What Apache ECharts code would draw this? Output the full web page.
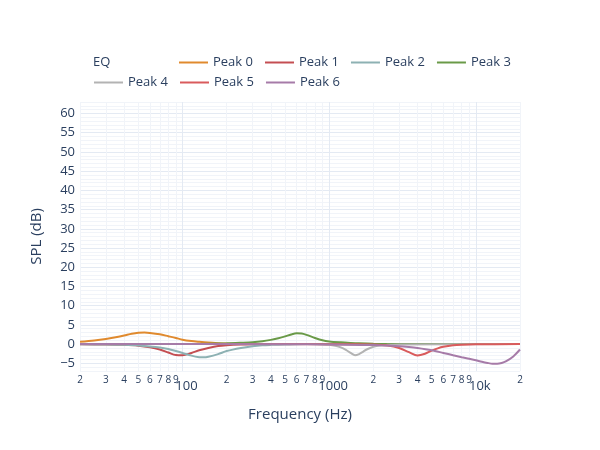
<!DOCTYPE html>
<html><head><meta charset="utf-8">
<script src="https://cdn.jsdelivr.net/npm/echarts@6/dist/echarts.min.js"></script>
<style>html,body{margin:0;padding:0;background:#fff}#c{width:600px;height:450px}</style>
</head><body><div id="c"></div>
<script>
// ---- data ----
const seriesNames = ['Peak 0', 'Peak 1', 'Peak 2', 'Peak 3', 'Peak 4', 'Peak 5', 'Peak 6'];
const seriesColors = ['#E08A2E', '#C44E52', '#8DB1B3', '#6A9A48', '#B3B3B3', '#D95B5C', '#A67BA8'];

const peak0Freq = [20, 25, 30, 35, 40, 45, 50, 55, 60, 70, 80, 90, 100, 115, 130, 150, 175, 200, 250, 300, 400, 20000];
const peak0Gain = [0.6, 0.95, 1.35, 1.8, 2.25, 2.7, 2.95, 3.0, 2.9, 2.55, 2.05, 1.6, 1.15, 0.8, 0.6, 0.4, 0.25, 0.15, 0.08, 0.04, 0, 0];

const peak1Freq = [20, 30, 40, 50, 60, 70, 80, 90, 100, 115, 130, 150, 175, 200, 250, 300, 400, 20000];
const peak1Gain = [-0.05, -0.1, -0.2, -0.4, -0.8, -1.4, -2.2, -2.85, -2.9, -2.3, -1.6, -1.0, -0.5, -0.3, -0.12, -0.05, 0, 0];

const peak2Freq = [20, 30, 40, 50, 60, 70, 80, 90, 100, 115, 130, 140, 150, 175, 200, 250, 300, 350, 400, 500, 700, 20000];
const peak2Gain = [-0.05, -0.1, -0.2, -0.35, -0.6, -0.9, -1.3, -1.8, -2.3, -3.0, -3.4, -3.45, -3.3, -2.6, -1.8, -1.0, -0.55, -0.3, -0.2, -0.1, 0, 0];

const peak3Freq = [20, 100, 150, 200, 250, 300, 350, 400, 450, 500, 550, 600, 650, 700, 800, 900, 1000, 1200, 1400, 1600, 2000, 3000, 20000];
const peak3Gain = [0, 0.02, 0.1, 0.2, 0.35, 0.5, 0.75, 1.1, 1.5, 2.0, 2.5, 2.8, 2.75, 2.4, 1.6, 1.0, 0.7, 0.45, 0.3, 0.2, 0.1, 0.03, 0];

const peak4Freq = [20, 700, 900, 1000, 1100, 1200, 1300, 1400, 1500, 1600, 1700, 1800, 2000, 2200, 2500, 3000, 20000];
const peak4Gain = [0, 0, -0.1, -0.2, -0.45, -0.85, -1.5, -2.3, -2.9, -2.6, -2.0, -1.4, -0.7, -0.35, -0.2, -0.08, 0];

const peak5Freq = [20, 1500, 2000, 2500, 3000, 3500, 4000, 4500, 5000, 5500, 6000, 7000, 8000, 10000, 20000];
const peak5Gain = [0, -0.02, -0.1, -0.35, -1.0, -2.1, -2.95, -2.5, -1.7, -1.1, -0.7, -0.3, -0.15, -0.05, 0];

const peak6Freq = [20, 500, 1000, 2000, 3000, 3500, 4000, 5000, 6000, 7000, 8000, 9000, 10000, 11000, 12000, 13000, 14000, 15000, 16000, 18000, 20000];
const peak6Gain = [0, -0.02, -0.08, -0.25, -0.55, -0.75, -1.0, -1.6, -2.3, -2.9, -3.4, -3.8, -4.2, -4.6, -4.9, -5.1, -5.1, -4.9, -4.5, -3.2, -1.4];

const xGridFreqs = [20, 30, 40, 50, 60, 70, 80, 90, 100, 200, 300, 400, 500, 600, 700, 800, 900, 1000,
  2000, 3000, 4000, 5000, 6000, 7000, 8000, 9000, 10000, 20000];
const xDigitFreqs = [20, 30, 40, 50, 60, 70, 80, 90, 200, 300, 400, 500, 600, 700, 800, 900,
  2000, 3000, 4000, 5000, 6000, 7000, 8000, 9000, 20000];
const xDigitLabels = ['2', '3', '4', '5', '6', '7', '8', '9', '2', '3', '4', '5', '6', '7', '8', '9',
  '2', '3', '4', '5', '6', '7', '8', '9', '2'];
const xDecadeFreqs = [100, 1000, 10000];
const xDecadeLabels = ['100', '1000', '10k'];
const xMinFreq = 20, xMaxFreq = 20000;
const yMin = -7, yMax = 63, yMajorStep = 5;

// ---- build ----
const freqSets = [peak0Freq, peak1Freq, peak2Freq, peak3Freq, peak4Freq, peak5Freq, peak6Freq];
const gainSets = [peak0Gain, peak1Gain, peak2Gain, peak3Gain, peak4Gain, peak5Gain, peak6Gain];
const L = Math.log10;
const txt = '#2a3f5f';
const font = 'Open Sans';
const gridMajor = '#E4EAF3', gridMinor = '#F1F4F9';

function labelFor(freqs, labels) {
  return v => {
    const i = freqs.findIndex(f => Math.abs(L(f) - v) < 1e-6);
    return i >= 0 ? labels[i] : '';
  };
}

const series = seriesNames.map((name, k) => ({
  name, type: 'line', symbol: 'none', showSymbol: false, smooth: 0.3,
  lineStyle: { width: 2, color: seriesColors[k] },
  itemStyle: { color: seriesColors[k] },
  emphasis: { disabled: true },
  xAxisIndex: 0,
  data: freqSets[k].map((f, i) => [L(f), gainSets[k][i]])
}));

const xGridColors = xGridFreqs.slice(0, 9).map(f => (f === 100 ? gridMajor : gridMinor));

const legendBase = { padding: 0, icon: 'rect', itemWidth: 29, itemHeight: 2, itemGap: 12,
  textStyle: { fontFamily: font, fontSize: 13, color: txt } };

const option = {
  animation: false,
  textStyle: { fontFamily: font },
  title: { text: 'EQ', left: 93, top: 56, padding: 0,
    textStyle: { fontFamily: font, fontSize: 13, fontWeight: 'normal', color: txt } },
  legend: [
    Object.assign({ data: seriesNames.slice(0, 4), left: 179, top: 56 }, legendBase),
    Object.assign({ data: seriesNames.slice(4), left: 94, top: 76 }, legendBase)
  ],
  grid: { left: 80, right: 80, top: 102, bottom: 79, containLabel: false },
  xAxis: [
    { type: 'value', position: 'bottom', min: L(xMinFreq), max: L(xMaxFreq),
      axisLine: { show: false },
      axisTick: { show: false, customValues: xGridFreqs.map(L) },
      splitLine: { show: true, lineStyle: { color: xGridColors, width: 1 } },
      axisLabel: { customValues: xDigitFreqs.map(L), formatter: labelFor(xDigitFreqs, xDigitLabels),
        fontFamily: font, fontSize: 10, color: txt, margin: 4 },
      name: 'Frequency (Hz)', nameLocation: 'middle', nameGap: 36,
      nameTextStyle: { fontFamily: font, fontSize: 15, color: txt } },
    { type: 'value', position: 'bottom', min: L(xMinFreq), max: L(xMaxFreq),
      axisLine: { show: false },
      axisTick: { show: false, customValues: xDecadeFreqs.map(L) },
      splitLine: { show: false },
      axisLabel: { customValues: xDecadeFreqs.map(L), formatter: labelFor(xDecadeFreqs, xDecadeLabels),
        fontFamily: font, fontSize: 13, color: txt, margin: 9, padding: [0, 0, 0, 8] } }
  ],
  yAxis: {
    type: 'value', min: yMin, max: yMax, interval: 1,
    axisLine: { show: false }, axisTick: { show: false },
    splitLine: { show: true, lineStyle: { width: 1,
      color: [gridMinor, gridMinor, gridMajor, gridMinor, gridMinor] } },
    axisLabel: { fontFamily: font, fontSize: 13, color: txt, margin: 5,
      formatter: v => (v % yMajorStep === 0 ? (v < 0 ? '\u2212' + Math.abs(v) : String(v)) : '') },
    name: 'SPL (dB)', nameLocation: 'middle', nameGap: 36,
    nameTextStyle: { fontFamily: font, fontSize: 15, color: txt }
  },
  series
};

const chart = echarts.init(document.getElementById('c'), null, { renderer: 'canvas' });
chart.setOption(option);
</script>
</body></html>
